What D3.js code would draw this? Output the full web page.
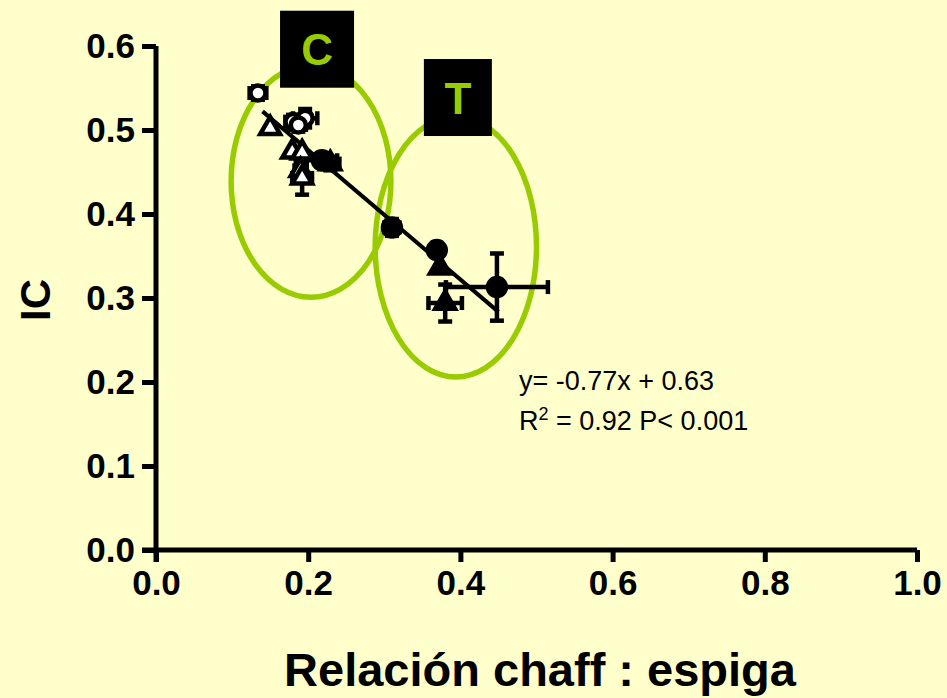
<!DOCTYPE html>
<html>
<head>
<meta charset="utf-8">
<script src="https://cdn.jsdelivr.net/npm/d3@7"></script>
<style>
  body { margin: 0; background: #FFFFCC; }
  svg { display: block; }
  text { font-family: "Liberation Sans", Arial, sans-serif; }
</style>
</head>
<body>
<div id="chart"></div>
<script>
// Data: [x, y, xerr, yerr]
const openCircles = [
  [0.134, 0.544, 0.011, 0.008],
  [0.180, 0.510, 0.010, 0.008],
  [0.196, 0.514, 0.016, 0.011],
  [0.187, 0.506, 0.010, 0.008]
];
const openTriangles = [
  [0.150, 0.502, 0, 0],
  [0.179, 0.474, 0, 0],
  [0.192, 0.473, 0, 0],
  [0.190, 0.452, 0.008, 0.010],
  [0.192, 0.443, 0.013, 0.020]
];
const filledCircles = [
  [0.218, 0.464, 0.020, 0.008],
  [0.310, 0.384, 0.010, 0.010],
  [0.369, 0.357, 0.004, 0.006],
  [0.448, 0.313, 0.067, 0.040]
];
const filledTriangles = [
  [0.229, 0.460, 0.012, 0.008],
  [0.373, 0.336, 0, 0],
  [0.380, 0.294, 0.022, 0.022]
];
const xTicks = [0, 0.2, 0.4, 0.6, 0.8, 1.0];
const yTicks = [0, 0.1, 0.2, 0.3, 0.4, 0.5, 0.6];
// regression y = -0.77x + 0.63, drawn over the data range
const fitSlope = -0.77, fitIntercept = 0.63, fitRange = [0.14, 0.45];
// group ellipses: [cx, cy, rx, ry] in data units, label box top-left
const groups = [
  { label: "C", e: [0.2037, 0.439, 0.105, 0.138], box: [0.163, 0.642] },
  { label: "T", e: [0.394, 0.361, 0.106, 0.155], box: [0.352, 0.5845] }
];

const width = 947, height = 698;

const svg = d3.select("#chart").append("svg")
    .attr("width", width)
    .attr("height", height);

svg.append("rect").attr("width", width).attr("height", height).attr("fill", "#FFFFCC");

const x = d3.scaleLinear().domain([0, 1]).range([156, 917]);
const y = d3.scaleLinear().domain([0, 0.6]).range([550, 46]);

const green = "#99CC00";

// Ellipses
groups.forEach(g => {
  const [cx, cy, rx, ry] = g.e;
  svg.append("ellipse")
      .attr("cx", x(cx)).attr("cy", y(cy))
      .attr("rx", x(rx) - x(0)).attr("ry", y(0) - y(ry))
      .attr("fill", "none")
      .attr("stroke", green)
      .attr("stroke-width", 5.5);
});

// Axes
const xAxis = svg.append("g")
    .attr("transform", `translate(0,${y(0)})`)
    .call(d3.axisBottom(x).tickValues(xTicks).tickFormat(d3.format(".1f"))
      .tickSize(12).tickSizeOuter(0).tickPadding(8));
const yAxis = svg.append("g")
    .attr("transform", `translate(${x(0)},0)`)
    .call(d3.axisLeft(y).tickValues(yTicks).tickFormat(d3.format(".1f"))
      .tickSize(14).tickSizeOuter(0).tickPadding(7));

[xAxis, yAxis].forEach(a => {
  a.select(".domain").attr("stroke", "#000").attr("stroke-width", 5);
  a.selectAll(".tick line").attr("stroke", "#000").attr("stroke-width", 5);
  a.selectAll(".tick text")
      .attr("fill", "#000")
      .style("font-size", "35px")
      .style("font-weight", "bold")
      .style("font-family", "'Liberation Sans', Arial, sans-serif");
});
yAxis.select(".domain").attr("d", `M0,${y(0.6)}V${y(0) + 12}`);
xAxis.select(".domain").attr("d", `M${x(0) - 14},0H${x(1)}`);

// Axis titles
svg.append("text")
    .attr("x", 540).attr("y", 686)
    .attr("text-anchor", "middle")
    .style("font-size", "47px").style("font-weight", "bold")
    .text("Relación chaff : espiga");
svg.append("text")
    .attr("transform", "translate(50,300) rotate(-90)")
    .attr("text-anchor", "middle")
    .style("font-size", "42px").style("font-weight", "bold")
    .text("IC");

// Regression line
svg.append("line")
    .attr("x1", x(fitRange[0])).attr("y1", y(fitSlope * fitRange[0] + fitIntercept))
    .attr("x2", x(fitRange[1])).attr("y2", y(fitSlope * fitRange[1] + fitIntercept))
    .attr("stroke", "#000").attr("stroke-width", 4);

// Error bars
const cap = 7;
function errorBars(data) {
  data.forEach(d => {
    const [dx, dy, ex, ey] = d;
    const g = svg.append("g").attr("stroke", "#000").attr("stroke-width", 4.5);
    if (ex > 0) {
      g.append("line").attr("x1", x(dx - ex)).attr("x2", x(dx + ex)).attr("y1", y(dy)).attr("y2", y(dy));
      [dx - ex, dx + ex].forEach(v => g.append("line")
        .attr("x1", x(v)).attr("x2", x(v)).attr("y1", y(dy) - cap).attr("y2", y(dy) + cap));
    }
    if (ey > 0) {
      g.append("line").attr("x1", x(dx)).attr("x2", x(dx)).attr("y1", y(dy - ey)).attr("y2", y(dy + ey));
      [dy - ey, dy + ey].forEach(v => g.append("line")
        .attr("y1", y(v)).attr("y2", y(v)).attr("x1", x(dx) - cap).attr("x2", x(dx) + cap));
    }
  });
}
[openCircles, openTriangles, filledCircles, filledTriangles].forEach(errorBars);

// Markers
const tri = d3.symbol().type(d3.symbolTriangle).size(170);
function markers(data, shape, fill) {
  const sel = svg.append("g").selectAll("path").data(data).enter();
  if (shape === "circle") {
    sel.append("circle")
        .attr("cx", d => x(d[0])).attr("cy", d => y(d[1]))
        .attr("r", fill === "#000" ? 9 : 7.5)
        .attr("fill", fill)
        .attr("stroke", "#000").attr("stroke-width", 4.5);
  } else {
    sel.append("path")
        .attr("d", tri)
        .attr("transform", d => `translate(${x(d[0])},${y(d[1])})`)
        .attr("fill", fill)
        .attr("stroke", "#000").attr("stroke-width", 4.5)
        .attr("stroke-linejoin", "miter");
  }
}
markers(filledCircles, "circle", "#000");
markers(filledTriangles, "triangle", "#000");
markers(openTriangles, "triangle", "#fff");
markers(openCircles, "circle", "#fff");

// Group labels in black boxes
groups.forEach(g => {
  const bw = g.label === "C" ? 74 : 68, bh = 77;
  const bx = x(g.box[0]), by = y(g.box[1]);
  svg.append("rect")
      .attr("x", bx).attr("y", by).attr("width", bw).attr("height", bh)
      .attr("fill", "#000");
  svg.append("text")
      .attr("x", bx + bw / 2).attr("y", by + bh / 2 + 16)
      .attr("text-anchor", "middle")
      .attr("fill", green)
      .style("font-size", "44px").style("font-weight", "bold")
      .text(g.label);
});

// Equation text
const eq = svg.append("g").style("font-size", "27px").attr("fill", "#000");
eq.append("text").attr("x", 519).attr("y", 390).text("y= -0.77x + 0.63");
const r2 = eq.append("text").attr("x", 519).attr("y", 430);
r2.append("tspan").text("R");
r2.append("tspan").attr("dy", -10).style("font-size", "18px").text("2");
r2.append("tspan").attr("dy", 10).text(" = 0.92 P< 0.001");
</script>
</body>
</html>
